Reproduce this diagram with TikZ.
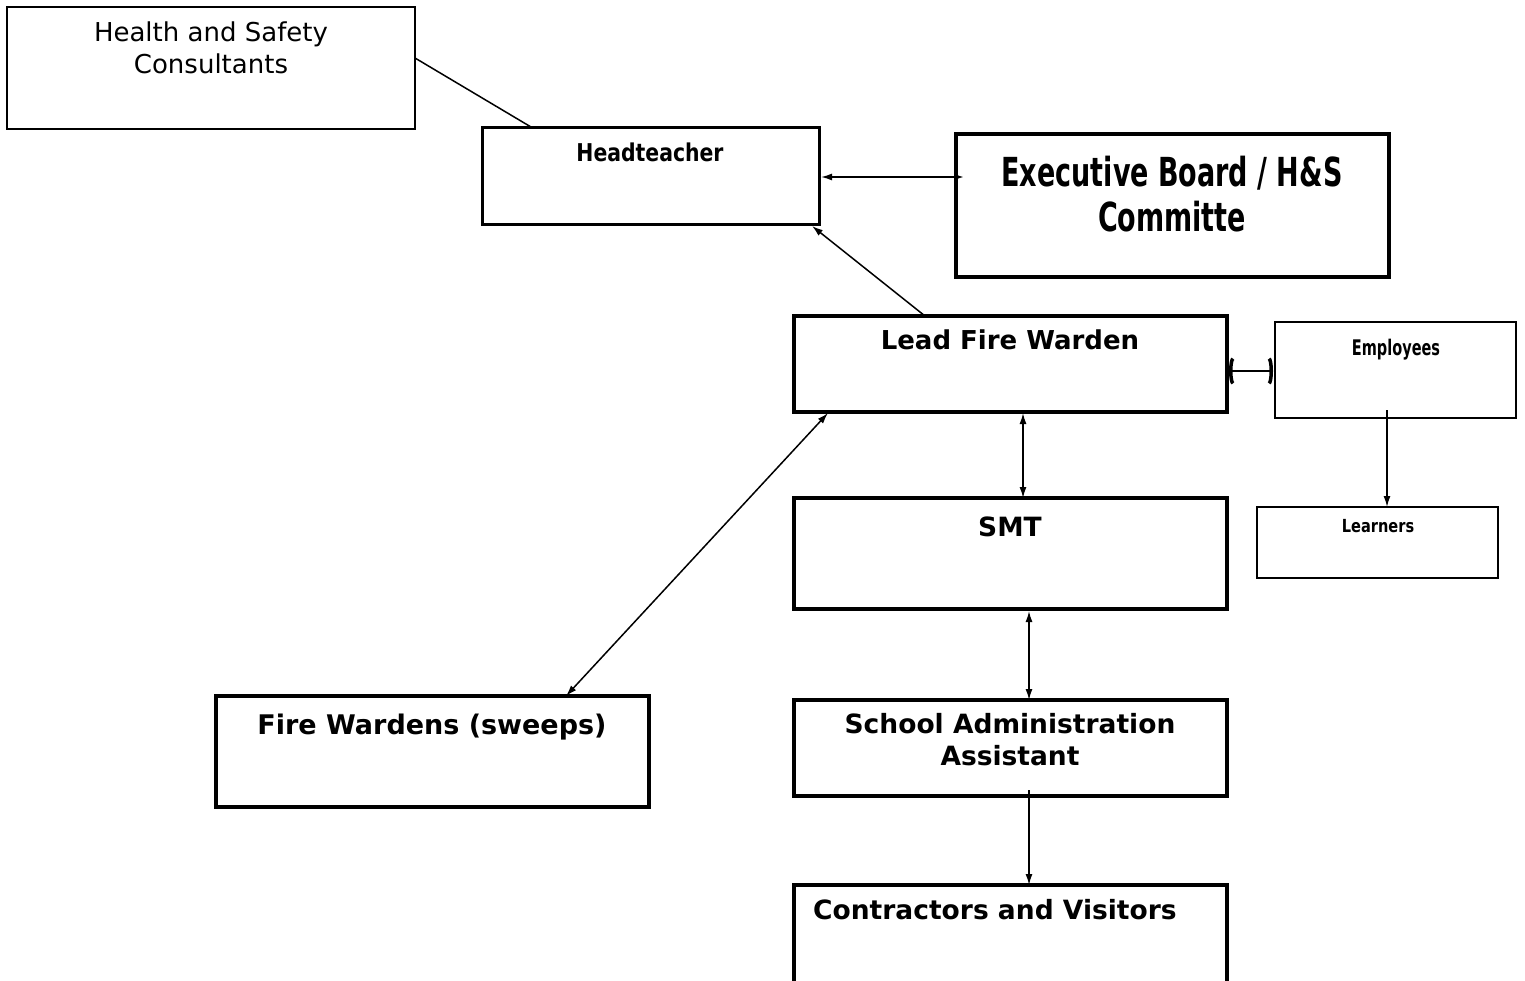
\documentclass[tikz,border=0pt]{standalone}
\usepackage{fontspec}
\setmainfont{DejaVu Sans}
\IfFontExistsTF{DejaVu Sans Condensed}
  {\newfontfamily\condfont{DejaVu Sans Condensed}\def\condk{1}}
  {\newfontfamily\condfont{DejaVu Sans}\def\condk{0.9}}
\usetikzlibrary{arrows.meta,calc}
\begin{document}
\begin{tikzpicture}[x=1pt,y=-1pt,
  box/.style={draw=black, line width=#1, rectangle, inner sep=0pt, outer sep=0pt, anchor=north west},
  txt/.style={inner sep=0pt, anchor=base},
  reg/.style={font=\fontsize{26}{32}\selectfont},
  vb/.style={font=\bfseries\fontsize{#1}{32}\selectfont},
  cb/.style={font=\condfont\bfseries\fontsize{#1}{40}\selectfont},
  conn/.style={draw=black, line width=1.5pt},
  tip/.style={-{Latex[length=11pt,width=7pt]}},
  tips/.style={{Latex[length=11pt,width=7pt]}-{Latex[length=11pt,width=7pt]}},
  arcs/.style={{Arc Barb[length=4pt,width=28pt,line width=3.5pt]}-{Arc Barb[length=4pt,width=28pt,line width=3.5pt]}}]
\useasboundingbox (0,0) rectangle (1525,980);
\fill[white] (0,0) rectangle (1525,980);

% boxes
\node[box=1.5pt, minimum width=408pt, minimum height=122pt] (hsc) at (7,7) {};
\node[box=3pt, minimum width=337pt, minimum height=97pt] (head) at (482,127) {};
\node[box=4pt, minimum width=433pt, minimum height=143pt] (exec) at (956,134) {};
\node[box=3.2pt, minimum width=433pt, minimum height=96pt] (lfw) at (794,316) {};
\node[box=2.5pt, minimum width=241pt, minimum height=96pt] (emp) at (1275,322) {};
\node[box=2.2pt, minimum width=241pt, minimum height=71pt] (lrn) at (1257,507) {};
\node[box=3.2pt, minimum width=433pt, minimum height=111pt] (smt) at (794,498) {};
\node[box=3.2pt, minimum width=433pt, minimum height=96pt] (sa) at (794,700) {};
\node[box=3.2pt, minimum width=433pt, minimum height=130pt] (cv) at (794,885) {};
\node[box=3.2pt, minimum width=433pt, minimum height=111pt] (fw) at (216,696) {};

% texts
\node[txt, reg] (hscA) at (211,41) {Health and Safety};
\node[txt, reg] (hscB) at (211,73) {Consultants};
\node[txt, cb=24.5, xscale=0.925/\condk] (headT) at (650,161) {Headteacher};
\node[txt, cb=40, xscale=0.75/\condk] (execA) at (1172,186) {Executive Board / H\&S};
\node[txt, cb=40, xscale=0.75/\condk] (execB) at (1172,231) {Committe};
\node[txt, vb=26] (lfwT) at (1010,349) {Lead Fire Warden};
\node[txt, cb=21.5, xscale=0.75/\condk] (empT) at (1396,355) {Employees};
\node[txt, cb=18, xscale=0.9/\condk] (lrnT) at (1378,532) {Learners};
\node[txt, vb=26.5] (smtT) at (1010,536) {SMT};
\node[txt, vb=26.5] (saA) at (1010,733) {School Administration};
\node[txt, vb=26.5] (saB) at (1010,765) {Assistant};
\node[txt, vb=26.5, anchor=base west] (cvT) at (813,919) {Contractors and Visitors};
\node[txt, vb=27] (fwT) at (432,734) {Fire Wardens (sweeps)};

% connectors
\draw[conn] ($(hsc.east)+(0,-10)$) -- ($(head.north west)+(49,0)$);
\draw[conn, {Latex[length=11pt,width=7pt]}-{Latex[length=8pt,width=5pt]}] ($(head.east)+(2,1.5)$) -- ($(head.east -| exec.west)+(8,1.5)$);
\draw[conn, tip] ($(lfw.north west)+(131,0)$) -- ($(head.south east)+(-7,2)$);
\draw[conn, tips] ($(lfw.south west)+(34,1)$) -- ($(fw.north west)+(350,0)$);
\draw[conn, tips] ($(lfw.south west)+(229,1)$) -- ($(smt.north west)+(229,0)$);
\draw[conn, arcs] ($(lfw.east)+(2,7)$) -- ($(lfw.east -| emp.west)+(-2,7)$);
\draw[conn, tips] ($(smt.south west)+(235,2)$) -- ($(sa.north west)+(235,0)$);
\draw[conn, tip] ($(sa.south west)+(235,-6)$) -- ($(cv.north west)+(235,0)$);
\draw[conn, tip] ($(emp.south west)+(112,-8)$) -- ($(lrn.north west)+(130,0)$);
\end{tikzpicture}
\end{document}
